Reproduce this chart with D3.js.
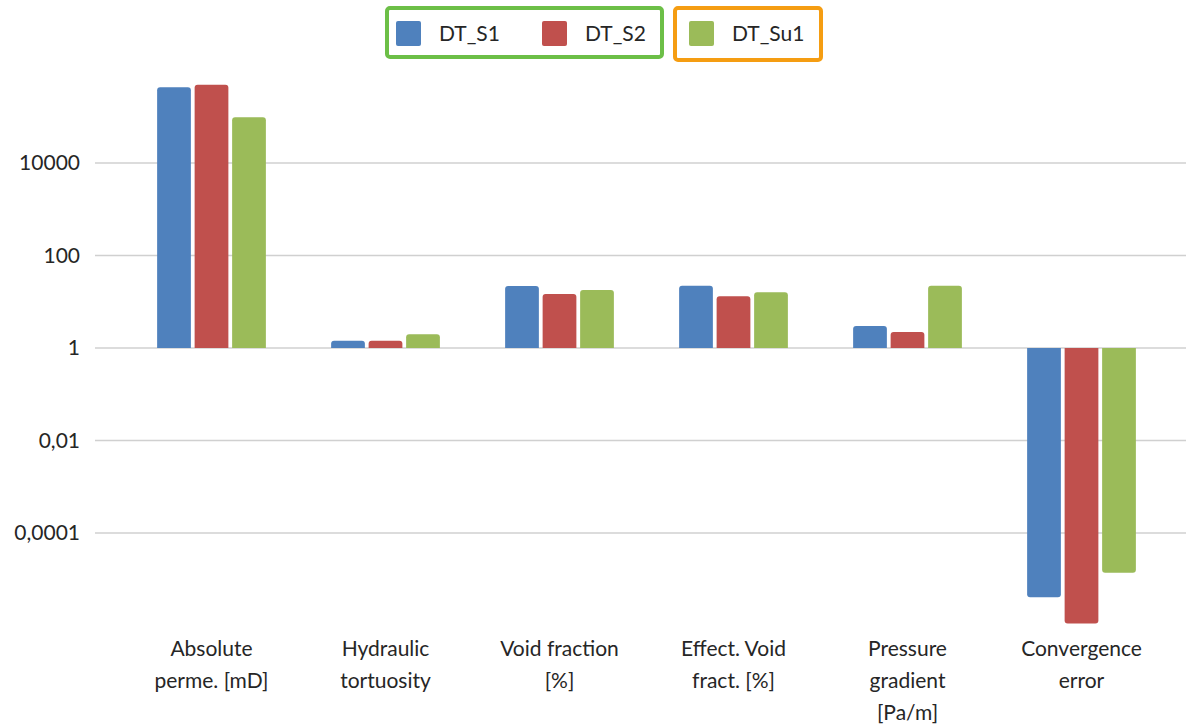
<!DOCTYPE html>
<html>
<head>
<meta charset="utf-8">
<script src="https://cdn.jsdelivr.net/npm/d3@7"></script>
<style>
body { margin: 0; background: #fff; }
svg text { font-family: Lato, "Open Sans", sans-serif; fill: #262626; }
</style>
</head>
<body>
<svg id="chart" width="1186" height="725"></svg>
<script>
var categories = [
	["Absolute", "perme. [mD]"],
	["Hydraulic", "tortuosity"],
	["Void fraction", "[%]"],
	["Effect. Void", "fract. [%]"],
	["Pressure", "gradient", "[Pa/m]"],
	["Convergence", "error"]
];
var seriesNames = ["DT_S1", "DT_S2", "DT_Su1"];
var seriesColors = ["#4F81BD", "#C0504D", "#9BBB59"];
var valuesS1 = [434000, 1.44, 22, 22.2, 3.0, 0.0000041];
var valuesS2 = [490000, 1.44, 14.7, 13.1, 2.22, 0.0000011];
var valuesSu1 = [98000, 1.98, 18, 16.0, 22.2, 0.0000138];
var tickValues = [0.0001, 0.01, 1, 100, 10000];

var allSeries = [valuesS1, valuesS2, valuesSu1];

var svg = d3.select("#chart");

var y = d3.scaleLog().domain([1e-6, 1e6]).range([625.5, 70.5]);
var x0 = d3.scaleBand().domain(d3.range(categories.length)).range([124.5, 1168.5])
	.paddingInner(0.375).paddingOuter(0.1875);
var x1 = d3.scaleBand().domain(d3.range(seriesNames.length)).range([0, x0.bandwidth()]).paddingInner(0.1);

// gridlines
svg.append("g").selectAll("line").data(tickValues).enter().append("line")
	.attr("x1", 95).attr("x2", 1186)
	.attr("y1", function(d){ return y(d); }).attr("y2", function(d){ return y(d); })
	.attr("stroke", "#d0d0d0").attr("stroke-width", 1.5);

var fmt = function(d){ return String(d).replace(".", ","); };
svg.append("g").selectAll("text").data(tickValues).enter().append("text")
	.attr("x", 80).attr("y", function(d){ return y(d); })
	.attr("dy", "0.35em").attr("text-anchor", "end")
	.style("font-size", "21px")
	.text(fmt);

// bars, base at 1
function barPath(xl, w, v){
	var y0 = y(1), y1 = y(v), r = 3;
	var dir = y1 < y0 ? 1 : -1;
	var p = d3.path();
	p.moveTo(xl, y0);
	p.lineTo(xl, y1 + dir * r);
	p.quadraticCurveTo(xl, y1, xl + r, y1);
	p.lineTo(xl + w - r, y1);
	p.quadraticCurveTo(xl + w, y1, xl + w, y1 + dir * r);
	p.lineTo(xl + w, y0);
	p.closePath();
	return p.toString();
}

allSeries.forEach(function(vals, si){
	svg.append("g").selectAll("path").data(vals).enter().append("path")
		.attr("d", function(v, i){ return barPath(x0(i) + x1(si), x1.bandwidth(), v); })
		.attr("fill", seriesColors[si]);
});

// category labels
var cat = svg.append("g").selectAll("text").data(categories).enter().append("text")
	.attr("text-anchor", "middle")
	.style("font-size", "21px")
	.attr("transform", function(d, i){ return "translate(" + (x0(i) + x0.bandwidth() / 2) + ",656)"; });
cat.selectAll("tspan").data(function(d){ return d; }).enter().append("tspan")
	.attr("x", 0).attr("y", function(d, i){ return i * 32; })
	.text(function(d){ return d; });

// legend
var legendX = [396, 542, 689];
var lg = svg.append("g");
seriesNames.forEach(function(n, i){
	lg.append("rect").attr("x", legendX[i]).attr("y", 21).attr("width", 25).attr("height", 25)
		.attr("rx", 2).attr("fill", seriesColors[i]);
	lg.append("text").attr("x", legendX[i] + 43).attr("y", 34).attr("dy", "0.35em")
		.style("font-size", "21px").text(n);
});
lg.append("rect").attr("x", 387).attr("y", 8).attr("width", 275).attr("height", 49)
	.attr("rx", 3).attr("fill", "none").attr("stroke", "#6CBF47").attr("stroke-width", 4);
lg.append("rect").attr("x", 675).attr("y", 8).attr("width", 146).attr("height", 52)
	.attr("rx", 3).attr("fill", "none").attr("stroke", "#F59D12").attr("stroke-width", 4);
</script>
</body>
</html>
